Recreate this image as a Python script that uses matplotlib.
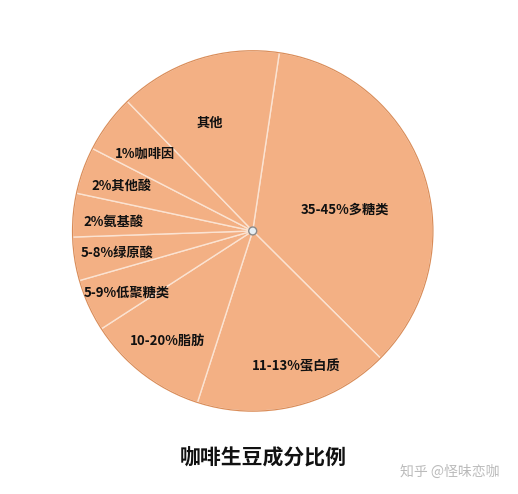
import numpy as np
import matplotlib.pyplot as plt

plt.rcParams['font.family'] = ['Noto Sans CJK SC', 'DejaVu Sans']

# 各扇区 (按图中角度估读, 顺时针, 从顶部偏右开始)
labels = ['35-45%多糖类', '11-13%蛋白质', '10-20%脂肪', '5-9%低聚糖类',
          '5-8%绿原酸', '2%氨基酸', '2%其他酸', '1%咖啡因', '其他']
sizes = [35.1, 17.5, 10.9, 4.7, 3.9, 3.9, 4.2, 5.2, 14.6]
# 标签位置 (以饼图半径为单位, 相对圆心)
label_x = [0.51, 0.24, -0.47, -0.70, -0.75, -0.77, -0.73, -0.60, -0.24]
label_y = [0.12, -0.75, -0.61, -0.34, -0.12, 0.05, 0.25, 0.43, 0.60]
title = '咖啡生豆成分比例'
watermark = '知乎 @怪味恋咖'

fill = '#F3B084'

fig = plt.figure(figsize=(5.18, 4.94), dpi=100)
ax = fig.add_axes([0.1365, 0.164, 0.7027, 0.737])
wedges, _ = ax.pie(sizes, startangle=81.5, counterclock=False, radius=1,
                   colors=[fill] * len(sizes),
                   wedgeprops=dict(edgecolor='#FBE3D2', linewidth=1.0))
# 外圈描边
ax.add_patch(plt.Circle((0, 0), 1, fill=False, edgecolor='#D98B57', lw=0.8))
# 圆心小点
ax.add_patch(plt.Circle((0, 0), 0.022, facecolor='#E6EEF4', edgecolor='#8A8A8A', lw=1.0, zorder=5))

for x, y, s in zip(label_x, label_y, labels):
    ax.text(x, y, s, ha='center', va='center', fontsize=9.5, fontweight='bold', color='#111111')

ax.set_xlim(-1.01, 1.01)
ax.set_ylim(-1.01, 1.01)
ax.set_aspect('equal')
ax.axis('off')

fig.text(0.508, 0.073, title, ha='center', va='center', fontsize=15, fontweight='bold', color='#111111')
fig.text(0.868, 0.045, watermark, ha='center', va='center', fontsize=10, color='#BBBBBB')

fig.savefig('out.png', dpi=100, facecolor='white')
